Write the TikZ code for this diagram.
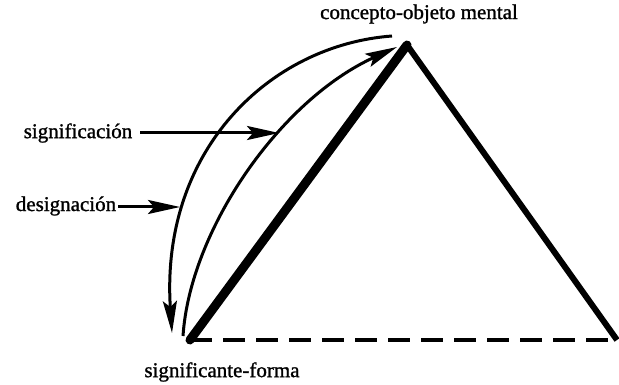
\documentclass[tikz,border=0pt]{standalone}
\usepackage{fontspec}
\setmainfont{Liberation Serif}[FakeBold=1.2]
\usetikzlibrary{arrows.meta}

\begin{document}
\begin{tikzpicture}[x=1pt,y=-1pt,
                   lbl/.style={inner sep=0pt,font=\fontsize{21}{24}\selectfont},
                   curve/.style={line width=3pt,-{Stealth[length=32pt,width=14pt,inset=6pt]}}]
\useasboundingbox (0,0) rectangle (619,385);
% vertices of the triangle
\coordinate (top) at (407,45);
\coordinate (left) at (190,340);
\coordinate (right) at (617,340);
\draw[line width=9pt,line cap=round] (left) -- (top);
\draw[line width=6pt] (top) -- (right);
\draw[line width=4pt,dash pattern=on 22pt off 11pt] (left) -- (right);
% labels
\node[lbl] (concepto) at (419,14) {concepto-objeto mental};
\node[lbl] (signif) at (78,133) {significación};
\node[lbl] (design) at (66,206) {designación};
\node[lbl] (forma) at (222,372) {significante-forma};
% the two curves
\coordinate (d0) at (392,36);
\coordinate (d1) at (172,333);
\coordinate (s0) at (183,336);
\coordinate (s1) at (397,47);
\draw[curve] (d0) .. controls (270,45) and (160,150) .. (d1);
\draw[curve] (s0) .. controls (190,230) and (280,100) .. (s1);
% pointers from the labels
\coordinate (sp) at (279,133);
\coordinate (dp) at (180,207);
\draw[curve] (signif.east) ++(8,0) -- (sp);
\draw[curve] (design.east) ++(2,1) -- (dp);
\end{tikzpicture}
\end{document}
